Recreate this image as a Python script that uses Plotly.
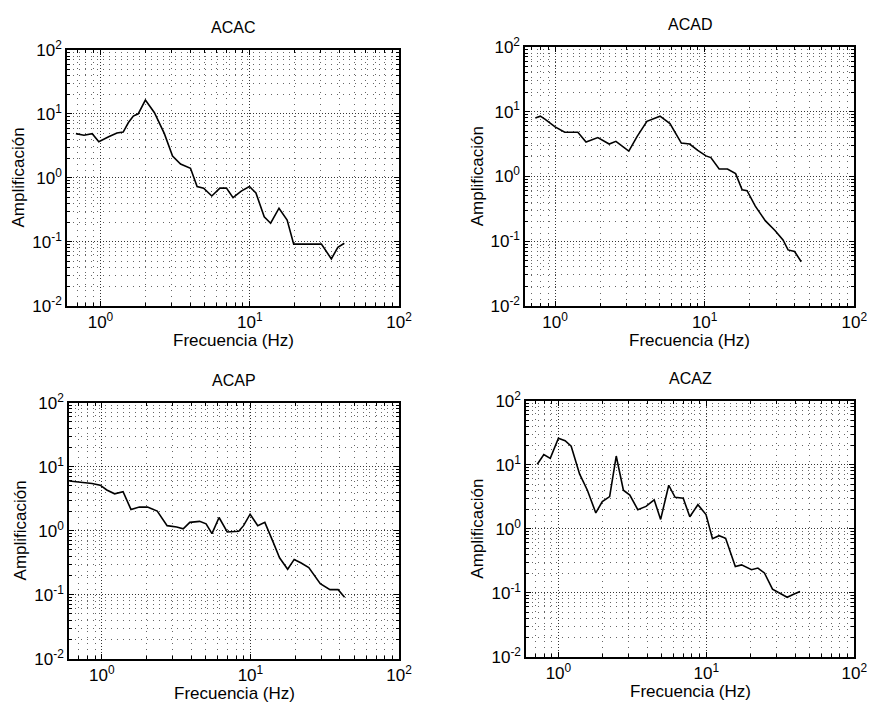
import plotly.graph_objects as go

# ---------------- data ----------------
acac_f = [0.685, 0.776, 0.881, 0.975, 1.135, 1.29, 1.42, 1.54, 1.66, 1.79, 2.0, 2.30, 2.68, 3.04, 3.44,
          4.01, 4.44, 4.91, 5.57, 6.31, 6.98, 7.73, 8.77, 9.95, 11.0, 12.5, 13.8, 15.7, 17.8, 19.7,
          24.7, 30.2, 35.2, 38.9, 43.0]
acac_a = [4.9, 4.62, 4.9, 3.67, 4.37, 5.0, 5.19, 7.3, 9.2, 10.0, 16.4, 10.4, 4.9, 2.19, 1.64,
          1.41, 0.73, 0.69, 0.52, 0.69, 0.69, 0.49, 0.62, 0.73, 0.58, 0.245, 0.195, 0.335, 0.219, 0.092,
          0.092, 0.092, 0.054, 0.082, 0.095]

acad_f = [0.738, 0.797, 0.859, 1.0, 1.16, 1.42, 1.61, 1.93, 2.30, 2.55, 3.11, 3.53, 4.11, 5.03, 5.86,
          6.98, 7.93, 8.99, 10.2, 11.0, 12.5, 14.2, 16.1, 17.8, 19.2, 21.8, 25.4, 29.5, 33.4, 36.1,
          39.9, 44.2]
acad_a = [7.94, 8.5, 7.6, 5.8, 4.79, 4.79, 3.39, 3.98, 3.16, 3.47, 2.45, 4.12, 7.08, 8.5, 6.53,
          3.27, 3.16, 2.51, 2.07, 1.95, 1.30, 1.30, 1.10, 0.62, 0.60, 0.347, 0.207, 0.146, 0.104, 0.073,
          0.069, 0.048]

acap_f = [0.604, 0.702, 0.859, 0.975, 1.08, 1.22, 1.39, 1.57, 1.79, 2.03, 2.36, 2.75, 3.19, 3.53, 3.91,
          4.55, 5.03, 5.51, 6.15, 6.98, 8.34, 8.99, 9.95, 11.2, 12.5, 14.2, 15.7, 17.8, 19.7, 21.8,
          24.7, 29.5, 34.3, 38.9, 43.0]
acap_a = [6.0, 5.8, 5.46, 5.15, 4.33, 3.77, 4.08, 2.15, 2.34, 2.34, 2.03, 1.20, 1.14, 1.07, 1.35,
          1.40, 1.28, 0.90, 1.61, 0.955, 0.978, 1.2, 1.81, 1.2, 1.35, 0.67, 0.377, 0.25, 0.356, 0.316,
          0.265, 0.149, 0.12, 0.12, 0.091]

acaz_f = [0.72, 0.797, 0.881, 1.0, 1.11, 1.22, 1.39, 1.57, 1.79, 1.98, 2.22, 2.46, 2.75, 3.04, 3.44,
          3.91, 4.44, 4.91, 5.57, 6.15, 6.98, 7.73, 8.77, 9.95, 11.0, 12.2, 13.5, 15.7, 17.3, 20.2,
          22.3, 24.7, 28.0, 31.0, 35.2, 38.9, 43.0]
acaz_a = [10.2, 14.5, 12.6, 26.0, 23.8, 19.5, 7.2, 4.0, 1.77, 2.67, 3.18, 13.7, 4.0, 3.37, 1.99,
          2.24, 2.83, 1.40, 4.79, 3.10, 3.0, 1.54, 2.38, 1.67, 0.70, 0.78, 0.71, 0.258, 0.273, 0.229,
          0.243, 0.204, 0.114, 0.101, 0.085, 0.095, 0.105]

titles = ["ACAC", "ACAD", "ACAP", "ACAZ"]
series = [(acac_f, acac_a), (acad_f, acad_a), (acap_f, acap_a), (acaz_f, acaz_a)]
x_ticks = [1, 10, 100]
x_ticktext = ["10<sup>0</sup>", "10<sup>1</sup>", "10<sup>2</sup>"]
y_ticks = [0.01, 0.1, 1, 10, 100]
y_ticktext = ["10<sup>-2</sup>", "10<sup>-1</sup>", "10<sup>0</sup>", "10<sup>1</sup>", "10<sup>2</sup>"]
x_label = "Frecuencia (Hz)"
y_label = "Amplificación"

# ---------------- layout geometry (pixels) ----------------
W, H = 885, 723
# (left, right, top, bottom) of each axes box in pixels, and log10 of x min
boxes = [(68, 405, 39, 303, -0.224),
         (533, 867, 36, 303, -0.200),
         (70, 405, 403, 667, -0.221),
         (534, 867, 401, 665, -0.218)]

FONT = "Liberation Sans, Arial, sans-serif"
minor_vals = [m * 10 ** e for e in range(-3, 3) for m in range(2, 10)]

fig = go.Figure()
annotations = []
for i, ((f, a), (l, r, t, b, xmin), title) in enumerate(zip(series, boxes, titles)):
    n = "" if i == 0 else str(i + 1)
    fig.add_trace(go.Scatter(x=f, y=a, mode="lines", line=dict(color="black", width=1.6),
                             xaxis="x" + n, yaxis="y" + n, showlegend=False))
    common = dict(
        type="log", showline=True, linecolor="black", linewidth=1.6, mirror="ticks",
        ticks="inside", ticklen=5, tickcolor="black", tickfont=dict(family=FONT, size=17, color="black"),
        showgrid=True, gridcolor="#333", gridwidth=1, griddash="1px,2px", zeroline=False,
        tickmode="array",
    )
    minor = dict(tickmode="array", tickvals=minor_vals, ticks="inside", ticklen=3, tickcolor="black",
                 showgrid=True, gridcolor="#666", gridwidth=1, griddash="1px,5px")
    fig.update_layout(**{
        "xaxis" + n: dict(common, domain=[l / W, r / W], range=[xmin, 2], tickvals=x_ticks,
                          ticktext=x_ticktext, anchor="y" + n, minor=minor),
        "yaxis" + n: dict(common, domain=[1 - b / H, 1 - t / H], range=[-2, 2], tickvals=y_ticks,
                          ticktext=y_ticktext, anchor="x" + n, minor=minor),
    })
    cx = (l + r) / 2
    annotations.append(dict(text=title, x=cx / W, y=1 - (t - 23) / H, xref="paper", yref="paper",
                            showarrow=False, font=dict(family=FONT, size=16, color="black"),
                            xanchor="center", yanchor="middle"))
    annotations.append(dict(text=x_label, x=cx / W, y=1 - (b + 36) / H, xref="paper", yref="paper",
                            showarrow=False, font=dict(family=FONT, size=17, color="black"),
                            xanchor="center", yanchor="middle"))
    annotations.append(dict(text=y_label, x=(l - 49) / W, y=1 - ((t + b) / 2) / H, xref="paper",
                            yref="paper", textangle=-90, showarrow=False,
                            font=dict(family=FONT, size=17, color="black"),
                            xanchor="center", yanchor="middle"))

fig.update_layout(width=W, height=H, margin=dict(l=0, r=0, t=0, b=0),
                  paper_bgcolor="white", plot_bgcolor="white", annotations=annotations)

fig.write_html("out.html")
